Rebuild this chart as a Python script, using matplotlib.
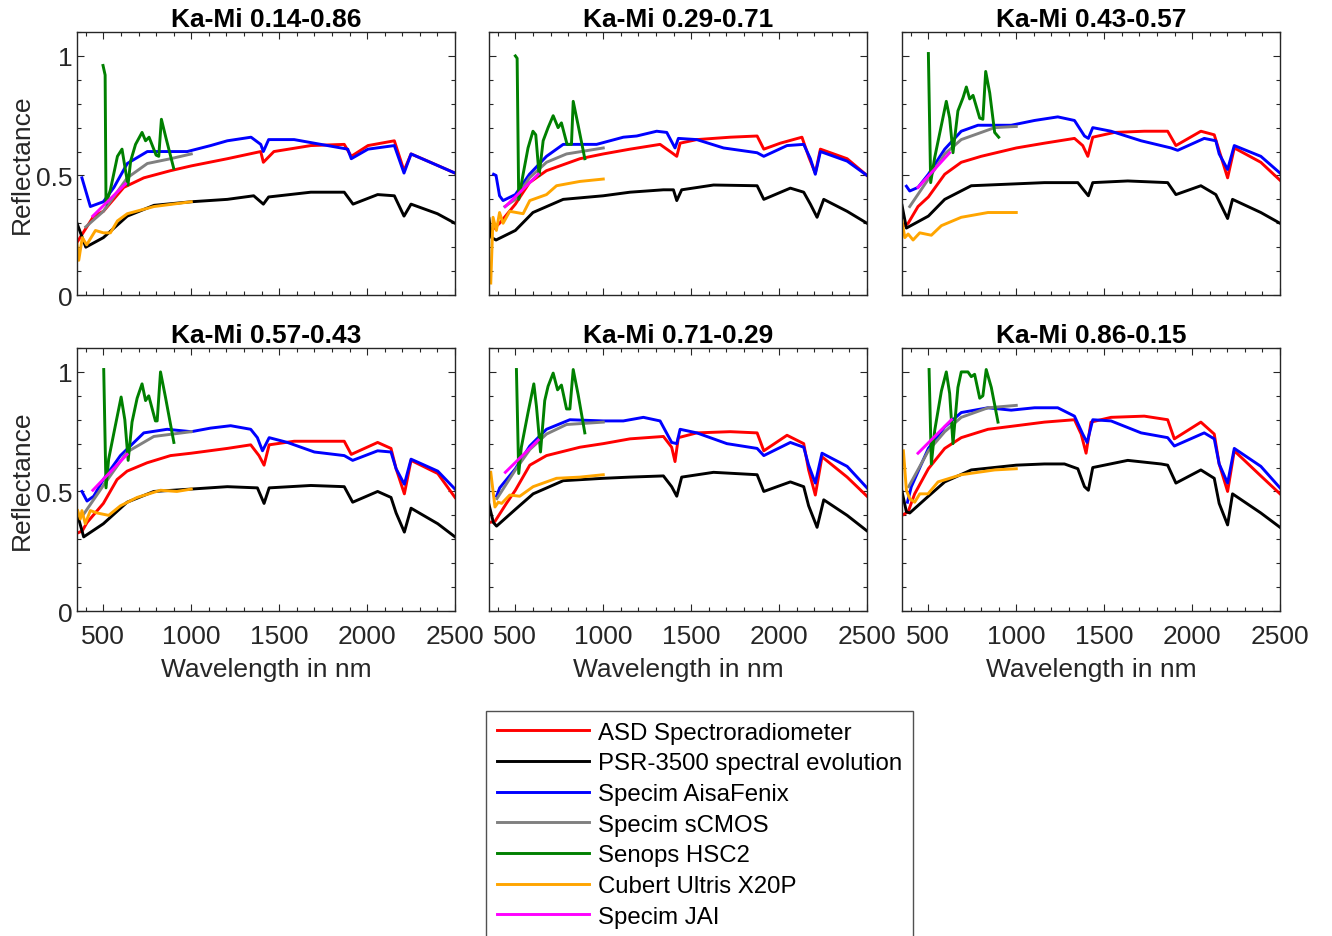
import matplotlib
matplotlib.use('Agg')
import matplotlib.pyplot as plt
from matplotlib.ticker import MultipleLocator
import numpy as np

# ── Data (wavelength nm, reflectance) ─────────────────────────────────────────
titles = ["Ka-Mi 0.14-0.86", "Ka-Mi 0.29-0.71", "Ka-Mi 0.43-0.57",
          "Ka-Mi 0.57-0.43", "Ka-Mi 0.71-0.29", "Ka-Mi 0.86-0.15"]

labels = ["ASD Spectroradiometer", "PSR-3500 spectral evolution",
          "Specim AisaFenix", "Specim sCMOS", "Senops HSC2",
          "Cubert Ultris X20P", "Specim JAI"]
colors = ["#ff0000", "#000000", "#0000ff", "#808080", "#008000", "#ffa500", "#ff00ff"]

# ASD Spectroradiometer
asd_wl = [
    [350, 445, 500, 616, 730, 882, 1000, 1205, 1395, 1410, 1470, 1680, 1870, 1910, 2005, 2155, 2210, 2250, 2345, 2500],
    [350, 410, 500, 580, 677, 867, 1000, 1152, 1323, 1390, 1418, 1437, 1532, 1722, 1875, 1913, 2007, 2130, 2170, 2206, 2235, 2387, 2500],
    [350, 385, 441, 500, 593, 687, 800, 1000, 1160, 1331, 1378, 1407, 1435, 1558, 1728, 1861, 1908, 2050, 2126, 2164, 2202, 2240, 2391, 2500],
    [350, 380, 407, 500, 578, 635, 749, 882, 1000, 1205, 1338, 1385, 1414, 1443, 1585, 1870, 1910, 2060, 2136, 2165, 2212, 2250, 2402, 2500],
    [350, 384, 449, 500, 582, 677, 867, 1000, 1152, 1342, 1389, 1408, 1427, 1532, 1722, 1875, 1913, 2045, 2140, 2168, 2206, 2244, 2387, 2500],
    [350, 385, 422, 500, 593, 687, 839, 1000, 1160, 1331, 1369, 1397, 1425, 1539, 1728, 1861, 1899, 2050, 2126, 2154, 2202, 2240, 2391, 2500],
]
asd_r = [
    [0.22, 0.33, 0.35, 0.45, 0.49, 0.52, 0.54, 0.57, 0.60, 0.555, 0.60, 0.625, 0.63, 0.58, 0.625, 0.645, 0.52, 0.59, 0.56, 0.51],
    [0.26, 0.30, 0.38, 0.47, 0.52, 0.57, 0.59, 0.61, 0.63, 0.595, 0.58, 0.635, 0.65, 0.66, 0.665, 0.61, 0.635, 0.66, 0.575, 0.51, 0.61, 0.57, 0.50],
    [0.285, 0.30, 0.37, 0.41, 0.505, 0.555, 0.58, 0.615, 0.635, 0.655, 0.625, 0.58, 0.66, 0.68, 0.685, 0.685, 0.625, 0.685, 0.67, 0.58, 0.49, 0.615, 0.555, 0.48],
    [0.325, 0.335, 0.37, 0.45, 0.55, 0.585, 0.62, 0.65, 0.66, 0.68, 0.695, 0.65, 0.61, 0.695, 0.71, 0.71, 0.655, 0.705, 0.68, 0.595, 0.49, 0.63, 0.575, 0.475],
    [0.37, 0.375, 0.45, 0.505, 0.61, 0.65, 0.685, 0.70, 0.72, 0.73, 0.685, 0.625, 0.725, 0.745, 0.75, 0.745, 0.67, 0.735, 0.70, 0.59, 0.485, 0.645, 0.56, 0.48],
    [0.40, 0.415, 0.49, 0.595, 0.68, 0.725, 0.76, 0.775, 0.79, 0.80, 0.74, 0.66, 0.79, 0.81, 0.815, 0.80, 0.72, 0.79, 0.74, 0.615, 0.50, 0.67, 0.565, 0.49],
]

# PSR-3500 spectral evolution
psr_wl = [
    [350, 400, 500, 636, 788, 1000, 1205, 1355, 1410, 1440, 1680, 1870, 1920, 2060, 2155, 2210, 2250, 2400, 2500],
    [350, 365, 390, 500, 600, 772, 1000, 1152, 1342, 1399, 1418, 1446, 1627, 1875, 1913, 2064, 2140, 2178, 2216, 2254, 2387, 2500],
    [350, 375, 500, 593, 744, 1000, 1160, 1350, 1388, 1410, 1435, 1634, 1861, 1908, 2050, 2135, 2202, 2230, 2391, 2500],
    [350, 388, 500, 635, 787, 1000, 1205, 1376, 1414, 1443, 1680, 1870, 1918, 2060, 2136, 2165, 2212, 2250, 2402, 2500],
    [350, 375, 393, 500, 601, 772, 1000, 1152, 1342, 1389, 1418, 1446, 1627, 1875, 1913, 2064, 2140, 2168, 2216, 2254, 2387, 2500],
    [350, 375, 394, 500, 593, 744, 1000, 1160, 1274, 1350, 1388, 1410, 1435, 1634, 1823, 1861, 1908, 2050, 2126, 2154, 2202, 2230, 2391, 2500],
]
psr_r = [
    [0.30, 0.20, 0.24, 0.33, 0.375, 0.39, 0.40, 0.415, 0.38, 0.41, 0.43, 0.43, 0.38, 0.42, 0.415, 0.33, 0.38, 0.34, 0.30],
    [0.32, 0.24, 0.23, 0.27, 0.345, 0.40, 0.415, 0.43, 0.44, 0.44, 0.395, 0.44, 0.46, 0.457, 0.40, 0.447, 0.43, 0.38, 0.325, 0.40, 0.35, 0.30],
    [0.375, 0.28, 0.33, 0.40, 0.457, 0.465, 0.47, 0.47, 0.435, 0.415, 0.47, 0.477, 0.47, 0.42, 0.457, 0.42, 0.32, 0.40, 0.345, 0.30],
    [0.41, 0.31, 0.365, 0.455, 0.50, 0.51, 0.52, 0.515, 0.45, 0.515, 0.525, 0.52, 0.455, 0.50, 0.475, 0.41, 0.33, 0.43, 0.365, 0.31],
    [0.445, 0.37, 0.355, 0.425, 0.49, 0.545, 0.555, 0.56, 0.565, 0.52, 0.48, 0.56, 0.58, 0.57, 0.50, 0.54, 0.52, 0.44, 0.35, 0.465, 0.40, 0.335],
    [0.50, 0.415, 0.41, 0.48, 0.54, 0.59, 0.61, 0.615, 0.615, 0.595, 0.52, 0.505, 0.60, 0.63, 0.615, 0.61, 0.535, 0.59, 0.555, 0.45, 0.36, 0.49, 0.41, 0.35],
]

# Specim AisaFenix
fenix_wl = [
    [378, 426, 500, 560, 636, 750, 977, 1110, 1205, 1340, 1395, 1410, 1440, 1585, 1775, 1890, 1910, 2005, 2155, 2210, 2250, 2500],
    [376, 390, 410, 430, 500, 580, 677, 772, 962, 1114, 1190, 1304, 1361, 1408, 1427, 1532, 1684, 1875, 1913, 2045, 2140, 2178, 2206, 2235, 2387, 2500],
    [375, 394, 441, 500, 593, 687, 782, 971, 1104, 1236, 1331, 1388, 1410, 1435, 1539, 1710, 1880, 1918, 2069, 2135, 2154, 2202, 2240, 2391, 2500],
    [378, 407, 445, 500, 597, 730, 863, 1000, 1110, 1224, 1338, 1376, 1405, 1443, 1547, 1700, 1870, 1918, 2060, 2136, 2165, 2212, 2250, 2402, 2500],
    [393, 411, 500, 582, 677, 810, 1000, 1114, 1228, 1323, 1389, 1418, 1437, 1532, 1703, 1875, 1913, 2064, 2140, 2168, 2206, 2244, 2387, 2500],
    [381, 403, 500, 593, 687, 839, 971, 1104, 1236, 1331, 1378, 1403, 1435, 1539, 1710, 1861, 1899, 2069, 2126, 2154, 2202, 2240, 2391, 2500],
]
fenix_r = [
    [0.49, 0.37, 0.39, 0.45, 0.55, 0.60, 0.60, 0.625, 0.645, 0.66, 0.63, 0.60, 0.65, 0.65, 0.625, 0.61, 0.57, 0.61, 0.625, 0.51, 0.59, 0.51],
    [0.505, 0.50, 0.415, 0.395, 0.42, 0.505, 0.58, 0.63, 0.63, 0.66, 0.665, 0.685, 0.68, 0.615, 0.655, 0.65, 0.615, 0.595, 0.58, 0.625, 0.63, 0.57, 0.505, 0.60, 0.56, 0.50],
    [0.455, 0.435, 0.45, 0.505, 0.61, 0.685, 0.71, 0.71, 0.73, 0.745, 0.73, 0.665, 0.655, 0.70, 0.685, 0.645, 0.615, 0.605, 0.655, 0.645, 0.59, 0.525, 0.625, 0.58, 0.51],
    [0.50, 0.46, 0.48, 0.55, 0.65, 0.745, 0.76, 0.75, 0.765, 0.775, 0.76, 0.725, 0.67, 0.725, 0.705, 0.665, 0.65, 0.63, 0.67, 0.665, 0.595, 0.53, 0.635, 0.585, 0.51],
    [0.48, 0.515, 0.595, 0.69, 0.76, 0.80, 0.795, 0.795, 0.81, 0.795, 0.705, 0.70, 0.76, 0.745, 0.70, 0.68, 0.65, 0.705, 0.685, 0.61, 0.535, 0.66, 0.605, 0.515],
    [0.455, 0.52, 0.68, 0.77, 0.83, 0.85, 0.84, 0.85, 0.85, 0.815, 0.74, 0.705, 0.80, 0.795, 0.745, 0.725, 0.69, 0.745, 0.72, 0.615, 0.535, 0.68, 0.605, 0.515],
]

# Specim sCMOS
scmos_wl = [
    [400, 500, 636, 750, 882, 1000],
    [440, 500, 580, 677, 791, 1000],
    [394, 500, 593, 687, 877, 1000],
    [388, 500, 635, 787, 1000],
    [395, 500, 582, 677, 791, 1000],
    [388, 500, 593, 687, 839, 1000],
]
scmos_r = [
    [0.285, 0.35, 0.49, 0.55, 0.57, 0.59],
    [0.37, 0.40, 0.49, 0.555, 0.59, 0.615],
    [0.37, 0.485, 0.59, 0.65, 0.70, 0.705],
    [0.405, 0.525, 0.665, 0.73, 0.75],
    [0.47, 0.59, 0.675, 0.74, 0.78, 0.79],
    [0.52, 0.67, 0.75, 0.81, 0.85, 0.86],
]

# Senops HSC2
hsc_wl = [
    [498, 510, 515, 540, 580, 606, 626, 640, 655, 683, 720, 740, 760, 800, 815, 830, 855, 900],
    [500, 510, 519, 544, 572, 600, 616, 635, 658, 686, 715, 743, 762, 794, 819, 829, 857, 895],
    [500, 513, 536, 574, 602, 621, 640, 668, 697, 716, 735, 754, 792, 810, 826, 849, 877, 900],
    [502, 515, 530, 568, 601, 622, 641, 663, 692, 720, 740, 758, 796, 806, 825, 853, 901],
    [506, 519, 534, 572, 605, 620, 643, 667, 686, 715, 740, 762, 791, 810, 829, 857, 895],
    [504, 517, 536, 574, 602, 621, 640, 668, 687, 725, 744, 763, 792, 810, 829, 858, 896],
]
hsc_r = [
    [0.96, 0.92, 0.38, 0.44, 0.58, 0.61, 0.52, 0.46, 0.56, 0.63, 0.68, 0.645, 0.66, 0.585, 0.58, 0.735, 0.66, 0.53],
    [1.00, 0.99, 0.40, 0.505, 0.615, 0.685, 0.67, 0.50, 0.645, 0.70, 0.75, 0.70, 0.72, 0.63, 0.63, 0.81, 0.71, 0.57],
    [1.01, 0.47, 0.575, 0.71, 0.81, 0.74, 0.595, 0.77, 0.825, 0.87, 0.82, 0.835, 0.74, 0.735, 0.935, 0.845, 0.68, 0.66],
    [1.01, 0.515, 0.635, 0.775, 0.895, 0.80, 0.63, 0.79, 0.89, 0.95, 0.88, 0.90, 0.795, 0.795, 1.00, 0.895, 0.705],
    [1.01, 0.575, 0.685, 0.83, 0.95, 0.855, 0.665, 0.88, 0.94, 0.995, 0.925, 0.945, 0.845, 0.845, 1.01, 0.905, 0.745],
    [1.01, 0.615, 0.755, 0.92, 1.00, 0.91, 0.70, 0.935, 1.00, 1.00, 0.98, 0.99, 0.89, 0.90, 1.01, 0.935, 0.79],
]

# Cubert Ultris X20P
cubert_wl = [
    [350, 360, 380, 405, 455, 500, 540, 580, 636, 788, 1000],
    [360, 373, 392, 410, 430, 468, 544, 582, 677, 734, 867, 1000],
    [350, 366, 385, 413, 451, 517, 574, 687, 839, 1000],
    [354, 369, 378, 397, 426, 464, 530, 597, 692, 825, 918, 1000],
    [360, 384, 403, 422, 468, 525, 601, 734, 867, 1000],
    [358, 375, 394, 422, 451, 498, 555, 687, 877, 1000],
]
cubert_r = [
    [0.215, 0.145, 0.24, 0.21, 0.27, 0.26, 0.26, 0.31, 0.34, 0.37, 0.39],
    [0.05, 0.325, 0.27, 0.345, 0.30, 0.35, 0.34, 0.395, 0.42, 0.457, 0.475, 0.485],
    [0.31, 0.24, 0.255, 0.23, 0.26, 0.25, 0.29, 0.325, 0.345, 0.345],
    [0.42, 0.385, 0.42, 0.365, 0.42, 0.41, 0.40, 0.44, 0.475, 0.505, 0.50, 0.51],
    [0.58, 0.435, 0.455, 0.45, 0.485, 0.48, 0.52, 0.555, 0.56, 0.57],
    [0.67, 0.505, 0.47, 0.455, 0.49, 0.49, 0.54, 0.57, 0.59, 0.595],
]

# Specim JAI
jai_wl = [
    [440, 626],
    [443, 630],
    [441, 621],
    [440, 635],
    [443, 630],
    [441, 631],
]
jai_r = [
    [0.33, 0.465],
    [0.37, 0.505],
    [0.45, 0.595],
    [0.505, 0.655],
    [0.58, 0.715],
    [0.66, 0.80],
]

series_wl = [asd_wl, psr_wl, fenix_wl, scmos_wl, hsc_wl, cubert_wl, jai_wl]
series_r = [asd_r, psr_r, fenix_r, scmos_r, hsc_r, cubert_r, jai_r]

# ── Figure ────────────────────────────────────────────────────────────────────
plt.rcParams['font.family'] = ['Liberation Sans', 'DejaVu Sans']
W, H = 1332, 937
fig = plt.figure(figsize=(W / 100, H / 100), dpi=100)

lefts = [77, 489, 902]
tops = [33, 349]
aw, ah = 378, 263
tick_col = '#262626'
fs = 19

axes = []
for k in range(6):
    row, col = divmod(k, 3)
    x0, y0 = lefts[col], tops[row]
    ax = fig.add_axes([x0 / W, 1 - (y0 + ah) / H, aw / W, ah / H])
    axes.append(ax)
    for j in range(7):
        ax.plot(series_wl[j][k], series_r[j][k], color=colors[j], lw=2.1,
                label=labels[j])
    ax.set_xlim(350, 2500)
    ax.set_ylim(0, 1.1)
    ax.xaxis.set_major_locator(MultipleLocator(500))
    ax.xaxis.set_minor_locator(MultipleLocator(100))
    ax.yaxis.set_major_locator(MultipleLocator(0.5))
    ax.yaxis.set_minor_locator(MultipleLocator(0.1))
    ax.yaxis.set_major_formatter(matplotlib.ticker.FuncFormatter(
        lambda v, p: f"{v:g}"))
    ax.tick_params(which='both', direction='in', top=True, right=True,
                   colors=tick_col, labelsize=fs, width=0.8)
    ax.tick_params(which='major', length=5)
    ax.tick_params(which='minor', length=3)
    ax.tick_params(axis='x', pad=9)
    for s in ax.spines.values():
        s.set_color(tick_col)
        s.set_linewidth(1)
    ax.set_title(titles[k], fontsize=fs, fontweight='bold', pad=4)
    if row == 0:
        ax.tick_params(labelbottom=False)
    else:
        ax.set_xlabel("Wavelength in nm", fontsize=fs, color=tick_col,
                      labelpad=7)
    if col == 0:
        ax.set_ylabel("Reflectance", fontsize=fs, color=tick_col, labelpad=1)
    else:
        ax.tick_params(labelleft=False)

handles, leg_labels = axes[0].get_legend_handles_labels()
leg = fig.legend(handles, leg_labels, loc='upper left',
                 bbox_to_anchor=(486 / W, 1 - 712 / H), fontsize=17.3,
                 handlelength=3.85, handletextpad=0.35, labelspacing=0.36,
                 frameon=True, fancybox=False, borderpad=0.45,
                 borderaxespad=0)
leg.get_frame().set_edgecolor(tick_col)
leg.get_frame().set_linewidth(1)

fig.savefig("out.png", dpi=100)
